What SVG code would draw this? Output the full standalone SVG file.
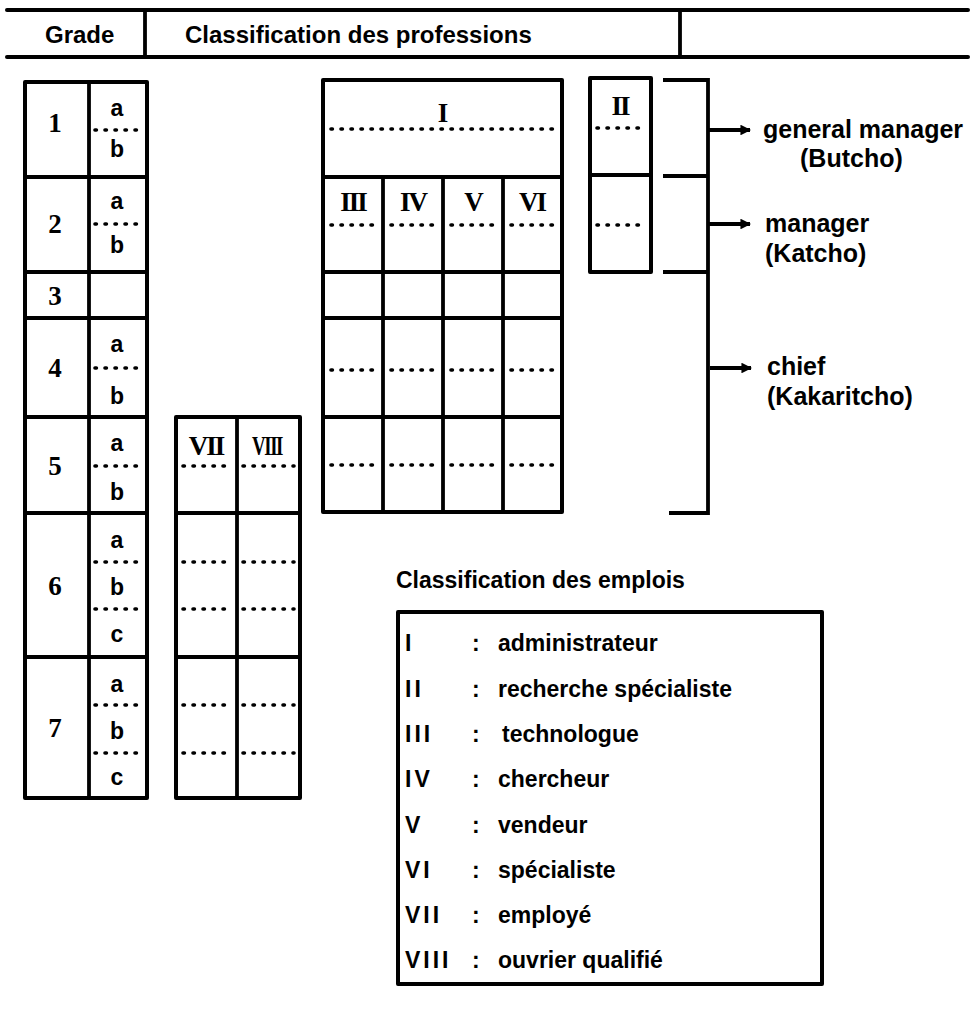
<svg xmlns="http://www.w3.org/2000/svg" width="973" height="1015" viewBox="0 0 973 1015">
  <style>
    .bg { fill: #ffffff; }
    .rule { stroke: #000; stroke-width: 4; fill: none; stroke-linecap: round; }
    .frame { stroke: #000; stroke-width: 4; fill: none; stroke-linejoin: round; }
    .grid { stroke: #000; stroke-width: 3.8; fill: none; }
    .dots { stroke: #000; stroke-width: 3.6; fill: none; stroke-linecap: round; stroke-dasharray: 1.4 8.6; }
    .hdr { font-family: "Liberation Sans", Arial, sans-serif; font-weight: 700; font-size: 24px; fill: #000; }
    .lab { font-family: "Liberation Sans", Arial, sans-serif; font-weight: 700; font-size: 25px; fill: #000; }
    .leg { font-family: "Liberation Sans", Arial, sans-serif; font-weight: 700; font-size: 23px; fill: #000; }
    .roman { letter-spacing: 3px; }
    .num { font-family: "Liberation Serif", "Times New Roman", serif; font-weight: 700; font-size: 27px; fill: #000; text-anchor: middle; }
    .rom { font-family: "Liberation Serif", "Times New Roman", serif; font-weight: 700; font-size: 27px; fill: #000; text-anchor: middle; letter-spacing: -2px; }
    .sub { font-family: "Liberation Sans", Arial, sans-serif; font-weight: 700; font-size: 23px; fill: #000; text-anchor: middle; }
    .conn { stroke: #000; stroke-width: 3.8; fill: none; }
  </style>
  <defs>
    <marker id="arrow" viewBox="0 0 10 10" refX="9" refY="5" markerWidth="2.8" markerHeight="2.8" orient="auto" markerUnits="strokeWidth">
      <path d="M0,0 L10,5 L0,10 Z" fill="#000"/>
    </marker>
  </defs>

  <rect class="bg" x="0" y="0" width="973" height="1015"/>

  <!-- header band -->
  <g id="header">
    <line class="rule" x1="7" y1="10" x2="968" y2="10"/>
    <line class="rule" x1="7" y1="57" x2="968" y2="57"/>
    <line class="grid" x1="145" y1="10" x2="145" y2="57" stroke-width="2.5"/>
    <line class="grid" x1="680" y1="10" x2="680" y2="57" stroke-width="2.5"/>
    <text class="hdr" x="45" y="43">Grade</text>
    <text class="hdr" x="185" y="43">Classification des professions</text>
  </g>

  <!-- grade column -->
  <g id="grades">
    <rect class="frame" x="25" y="82" width="122" height="716"/>
    <line class="grid" x1="89" y1="82" x2="89" y2="798"/>
    <line class="grid" x1="25" y1="177" x2="147" y2="177"/>
    <line class="grid" x1="25" y1="272" x2="147" y2="272"/>
    <line class="grid" x1="25" y1="318" x2="147" y2="318"/>
    <line class="grid" x1="25" y1="417" x2="147" y2="417"/>
    <line class="grid" x1="25" y1="513" x2="147" y2="513"/>
    <line class="grid" x1="25" y1="657" x2="147" y2="657"/>
    <path class="dots" d="M95,130 H145 M95,224 H145 M95,368 H145 M95,466 H145 M95,562 H145 M95,609 H145 M95,705 H145 M95,753 H145"/>
    <text class="num" x="55" y="132">1</text>
    <text class="num" x="55" y="233">2</text>
    <text class="num" x="55" y="305">3</text>
    <text class="num" x="55" y="377">4</text>
    <text class="num" x="55" y="475">5</text>
    <text class="num" x="55" y="595">6</text>
    <text class="num" x="55" y="737">7</text>
    <text class="sub" x="117" y="116">a</text>
    <text class="sub" x="117" y="157">b</text>
    <text class="sub" x="117" y="209">a</text>
    <text class="sub" x="117" y="253">b</text>
    <text class="sub" x="117" y="352">a</text>
    <text class="sub" x="117" y="404">b</text>
    <text class="sub" x="117" y="451">a</text>
    <text class="sub" x="117" y="500">b</text>
    <text class="sub" x="117" y="548">a</text>
    <text class="sub" x="117" y="595">b</text>
    <text class="sub" x="117" y="642">c</text>
    <text class="sub" x="117" y="692">a</text>
    <text class="sub" x="117" y="739">b</text>
    <text class="sub" x="117" y="785">c</text>
  </g>

  <!-- categories VII and VIII -->
  <g id="table-vii-viii">
    <rect class="frame" x="176" y="417" width="124" height="381"/>
    <line class="grid" x1="237" y1="417" x2="237" y2="798"/>
    <line class="grid" x1="176" y1="513" x2="300" y2="513"/>
    <line class="grid" x1="176" y1="657" x2="300" y2="657"/>
    <path class="dots" d="M183,466 H231 M243,466 H294 M183,562 H231 M243,562 H294 M183,609 H231 M243,609 H294 M183,705 H231 M243,705 H294 M183,753 H231 M243,753 H294"/>
    <text class="rom" x="206" y="455">VII</text>
    <text class="rom" x="267" y="455" textLength="30" lengthAdjust="spacingAndGlyphs">VIII</text>
  </g>

  <!-- categories I, III to VI -->
  <g id="table-main">
    <rect class="frame" x="323" y="80" width="239" height="432"/>
    <line class="grid" x1="323" y1="177" x2="562" y2="177"/>
    <line class="grid" x1="323" y1="272" x2="562" y2="272"/>
    <line class="grid" x1="323" y1="318" x2="562" y2="318"/>
    <line class="grid" x1="323" y1="417" x2="562" y2="417"/>
    <line class="grid" x1="383" y1="177" x2="383" y2="512"/>
    <line class="grid" x1="443" y1="177" x2="443" y2="512"/>
    <line class="grid" x1="503" y1="177" x2="503" y2="512"/>
    <path class="dots" d="M331,129 H556"/>
    <path class="dots" d="M331,225 H377 M391,225 H437 M451,225 H497 M511,225 H556 M331,370 H377 M391,370 H437 M451,370 H497 M511,370 H556 M331,465 H377 M391,465 H437 M451,465 H497 M511,465 H556"/>
    <text class="rom" x="442" y="122">I</text>
    <text class="rom" x="353" y="211">III</text>
    <text class="rom" x="413" y="211">IV</text>
    <text class="rom" x="473" y="211">V</text>
    <text class="rom" x="532" y="211">VI</text>
  </g>

  <!-- category II -->
  <g id="table-ii">
    <rect class="frame" x="590" y="78" width="61" height="194"/>
    <line class="grid" x1="590" y1="175" x2="651" y2="175"/>
    <path class="dots" d="M597,128 H645 M597,225 H645"/>
    <text class="rom" x="620" y="115">II</text>
  </g>

  <!-- hierarchy bracket and arrows -->
  <g id="connectors">
    <path class="conn" d="M663,80 H708 V513 H669"/>
    <path class="conn" d="M663,176 H708"/>
    <path class="conn" d="M663,272 H708"/>
    <line class="conn" x1="708" y1="130" x2="750" y2="130" marker-end="url(#arrow)"/>
    <line class="conn" x1="708" y1="224" x2="750" y2="224" marker-end="url(#arrow)"/>
    <line class="conn" x1="710" y1="368" x2="751" y2="368" marker-end="url(#arrow)"/>
  </g>

  <g id="rank-general-manager">
    <text class="lab" x="763" y="138">general manager</text>
    <text class="lab" x="800" y="167">(Butcho)</text>
  </g>
  <g id="rank-manager">
    <text class="lab" x="765" y="232">manager</text>
    <text class="lab" x="765" y="262">(Katcho)</text>
  </g>
  <g id="rank-chief">
    <text class="lab" x="767" y="375">chief</text>
    <text class="lab" x="767" y="405">(Kakaritcho)</text>
  </g>

  <!-- legend of job categories -->
  <g id="legend">
    <text class="leg" x="396" y="588">Classification des emplois</text>
    <rect class="frame" x="398" y="612" width="424" height="372" stroke-width="3"/>
    <g class="leg roman">
      <text x="405" y="651">I</text>
      <text x="405" y="697">II</text>
      <text x="405" y="742">III</text>
      <text x="405" y="787">IV</text>
      <text x="405" y="833">V</text>
      <text x="405" y="878">VI</text>
      <text x="405" y="923">VII</text>
      <text x="405" y="968">VIII</text>
    </g>
    <g class="leg">
      <text x="472" y="651">:</text>
      <text x="472" y="697">:</text>
      <text x="472" y="742">:</text>
      <text x="472" y="787">:</text>
      <text x="472" y="833">:</text>
      <text x="472" y="878">:</text>
      <text x="472" y="923">:</text>
      <text x="472" y="968">:</text>
    </g>
    <g class="leg">
      <text x="498" y="651">administrateur</text>
      <text x="498" y="697">recherche spécialiste</text>
      <text x="502" y="742">technologue</text>
      <text x="498" y="787">chercheur</text>
      <text x="498" y="833">vendeur</text>
      <text x="498" y="878">spécialiste</text>
      <text x="498" y="923">employé</text>
      <text x="498" y="968">ouvrier qualifié</text>
    </g>
  </g>
</svg>
